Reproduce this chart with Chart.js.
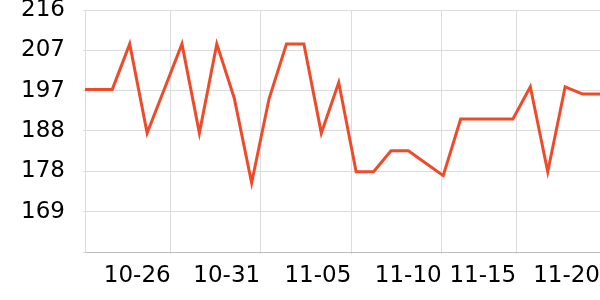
<!DOCTYPE html>
<html>
<head>
<meta charset="utf-8">
<script src="https://cdn.jsdelivr.net/npm/chart.js@4"></script>
<style>
html,body{margin:0;padding:0;background:#fff;}
#wrap{width:600px;height:300px;position:relative;}
</style>
</head>
<body>
<div id="wrap"><canvas id="c"></canvas></div>
<script>
// point positions (day index) and values
const xIndex = [0,1,2,3,4,5,6,7,8,9,10,11,12,13,14,15,16,17,18,19,20,21,22,23,24,25,26,27,28,29,30];
const values = [197.5,197.5,197.5,208.1,187.3,197.7,208.1,187.3,208.1,195.5,175.7,195.3,208.1,208.1,187.3,199.1,178.3,178.3,183.2,183.2,180.3,177.4,190.6,190.6,190.6,190.6,198.1,178.3,198.1,196.4,196.4];
// x tick positions and labels
const xTickValues = [5.35,10.49,15.72,20.91,25.19,30];
const xTickLabels = ['10-26','10-31','11-05','11-10','11-15','11-20'];
// y ticks
const yTickValues = [216,206.6,197.2,187.8,178.4,169,159.6];
const yTickLabels = ['216','207','197','188','178','169',''];

const xMin = 0.433, xMax = 30, yMin = 159.6, yMax = 216;

const pts = xIndex.map((x,i)=>({x:x,y:values[i]}));

Chart.defaults.font.family = 'DejaVu Sans';
Chart.defaults.font.size = 23;
Chart.defaults.color = '#000';

new Chart(document.getElementById('c'), {
  type: 'line',
  data: {
    datasets: [{
      data: pts,
      borderColor: '#ee4b2b',
      backgroundColor: '#ee4b2b',
      borderWidth: 3,
      pointRadius: 0,
      tension: 0,
      fill: false
    }]
  },
  options: {
    responsive: true,
    maintainAspectRatio: false,
    animation: false,
    layout: {padding: {top: 10, right: 0, left: 0, bottom: 0}},
    plugins: {legend: {display: false}, tooltip: {enabled: false}},
    scales: {
      x: {
        type: 'linear',
        min: xMin, max: xMax,
        afterBuildTicks: s => { s.ticks = xTickValues.map(v=>({value:v})); },
        afterFit: s => { s.height = 48; s.paddingLeft = 0; s.paddingRight = 0; },
        ticks: {
          align: 'end',
          maxRotation: 0,
          autoSkip: false,
          padding: 8,
          callback: (v) => { const i = xTickValues.indexOf(v); return i >= 0 ? xTickLabels[i] : ''; }
        },
        grid: {color: '#dcdcdc', tickLength: 2},
        border: {color: '#bdbdbd'}
      },
      y: {
        min: yMin, max: yMax,
        afterBuildTicks: s => { s.ticks = yTickValues.map(v=>({value:v})); },
        afterFit: s => { s.width = 85; s.paddingTop = 0; s.paddingBottom = 0; },
        ticks: {
          padding: 18,
          callback: (v) => { const i = yTickValues.indexOf(v); return i >= 0 ? yTickLabels[i] : ''; }
        },
        grid: {color: '#dcdcdc', tickLength: 2},
        border: {color: '#dcdcdc'}
      }
    }
  }
});
</script>
</body>
</html>
